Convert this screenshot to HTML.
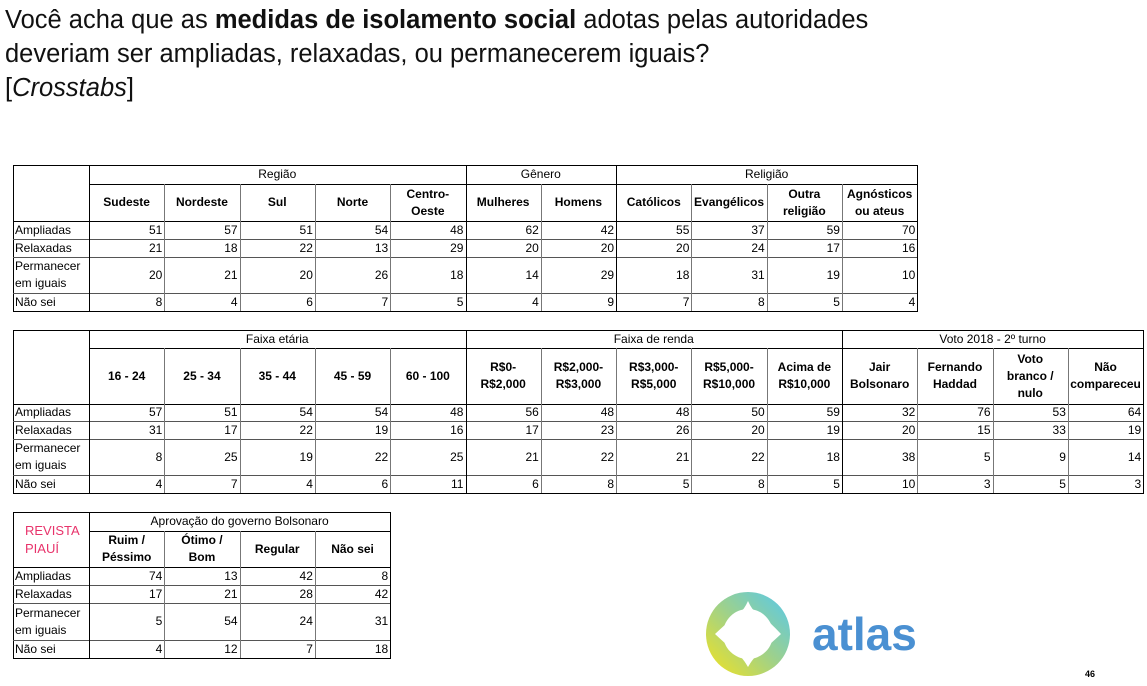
<!DOCTYPE html>
<html><head><meta charset="utf-8">
<style>
body{margin:0;width:1147px;height:686px;background:#fff;position:relative;overflow:hidden;font-family:"Liberation Sans",sans-serif;}
.title{position:absolute;left:5px;top:3px;font-size:25.5px;line-height:34px;color:#111;}
.c{position:absolute;box-sizing:border-box;font-size:12px;color:#000;display:flex;align-items:center;line-height:17px;}
.b{font-weight:bold;justify-content:center;text-align:center;}
.g{justify-content:center;}
.n{justify-content:flex-end;padding-right:2px;}
.r{padding-left:2px;}
</style></head><body>
<div class="title">Você acha que as <b>medidas de isolamento social</b> adotas pelas autoridades<br>deveriam ser ampliadas, relaxadas, ou permanecerem iguais?<br>[<i>Crosstabs</i>]</div>
<div id="root"></div>
<div style="position:absolute;left:25px;top:522px;color:#e8336b;font-size:13px;line-height:18px;">REVISTA<br>PIAUÍ</div>
<svg style="position:absolute;left:700px;top:588px" width="230" height="90">
<defs><linearGradient id="lg" x1="0" y1="1" x2="1" y2="0"><stop offset="0" stop-color="#f5e31c"/><stop offset="0.5" stop-color="#9fd18a"/><stop offset="1" stop-color="#55c8ee"/></linearGradient></defs>
<circle cx="48" cy="46" r="42" fill="url(#lg)"/>
<path d="M48 13 Q52 22 56 24 Q66 30 81 46 Q66 60 56 68 Q52 72 48 79 Q44 72 40 68 Q30 60 15 46 Q30 32 40 24 Q44 22 48 13Z" fill="#fff"/>
<circle cx="48" cy="46" r="25" fill="#fff"/>
<text x="112" y="62" font-family="Liberation Sans,sans-serif" font-weight="bold" font-size="46" fill="#4a90d2">atlas</text>
</svg>
<div style="position:absolute;left:1085px;top:669px;font-size:9px;font-weight:bold;">46</div>
<script>
const rowLabels=["Ampliadas","Relaxadas","Permanecer<br>em iguais","Não sei"];
const t1Groups=[["Região",5],["Gênero",2],["Religião",4]];
const t1Cols=["Sudeste","Nordeste","Sul","Norte","Centro-<br>Oeste","Mulheres","Homens","Católicos","Evangélicos","Outra<br>religião","Agnósticos<br>ou ateus"];
const t1Ampliadas=[51,57,51,54,48,62,42,55,37,59,70];
const t1Relaxadas=[21,18,22,13,29,20,20,20,24,17,16];
const t1Permanecer=[20,21,20,26,18,14,29,18,31,19,10];
const t1NaoSei=[8,4,6,7,5,4,9,7,8,5,4];
const t2Groups=[["Faixa etária",5],["Faixa de renda",5],["Voto 2018 - 2º turno",4]];
const t2Cols=["16 - 24","25 - 34","35 - 44","45 - 59","60 - 100","R$0-<br>R$2,000","R$2,000-<br>R$3,000","R$3,000-<br>R$5,000","R$5,000-<br>R$10,000","Acima de<br>R$10,000","Jair<br>Bolsonaro","Fernando<br>Haddad","Voto<br>branco /<br>nulo","Não<br>compareceu"];
const t2Ampliadas=[57,51,54,54,48,56,48,48,50,59,32,76,53,64];
const t2Relaxadas=[31,17,22,19,16,17,23,26,20,19,20,15,33,19];
const t2Permanecer=[8,25,19,22,25,21,22,21,22,18,38,5,9,14];
const t2NaoSei=[4,7,4,6,11,6,8,5,8,5,10,3,5,3];
const t3Groups=[["Aprovação do governo Bolsonaro",4]];
const t3Cols=["Ruim /<br>Péssimo","Ótimo /<br>Bom","Regular","Não sei"];
const t3Ampliadas=[74,13,42,8];
const t3Relaxadas=[17,21,28,42];
const t3Permanecer=[5,54,24,31];
const t3NaoSei=[4,12,7,18];

const root=document.getElementById('root');
function cell(x,y,w,h,html,cls,name){
  const d=document.createElement('div');
  d.className='c '+cls;
  d.style.left=x+'px';d.style.top=y+'px';d.style.width=w+'px';d.style.height=h+'px';
  d.innerHTML=html;
  
  
  root.appendChild(d);return d;
}
function line(x,y,w,h,col){
  const d=document.createElement('div');
  d.style.cssText='position:absolute;left:'+x+'px;top:'+y+'px;width:'+w+'px;height:'+h+'px;background:'+col;
  
  
  root.appendChild(d);
}
function table(name,x0,ys,cw,groups,cols,series){
  const n=cols.length, x1=89, colX=i=>x1+i*cw, xEnd=colX(n);
  let gi=0;
  groups.forEach(g=>{cell(colX(gi),ys[0],g[1]*cw,ys[1]-ys[0],g[0],'g',name+'-group-header');gi+=g[1];});
  cols.forEach((c,i)=>cell(colX(i),ys[1],cw,ys[2]-ys[1],c,'b',name+'-col-header'));
  rowLabels.forEach((r,ri)=>{
    cell(x0,ys[2+ri],x1-x0,ys[3+ri]-ys[2+ri],r,'r',name+'-row-label');
    series[ri].forEach((v,i)=>cell(colX(i),ys[2+ri],cw,ys[3+ri]-ys[2+ri],v,'n',name+'-value'));
  });
  const top=ys[0],bot=ys[ys.length-1];
  line(x0,top,xEnd-x0+1,1,'#000');line(x0,bot,xEnd-x0+1,1,'#000');
  line(x0,top,1,bot-top,'#000');line(xEnd,top,1,bot-top+1,'#000');
  line(x1,ys[1],xEnd-x1,1,'#000');
  for(let k=2;k<ys.length-1;k++)line(x0,ys[k],xEnd-x0,1,k==2?'#000':'#555');
  line(x1,top,1,bot-top,'#000');
  let b=0;const bounds=new Set();groups.forEach(g=>{b+=g[1];bounds.add(b);});
  for(let i=1;i<n;i++){
    if(bounds.has(i))line(colX(i),top,1,bot-top,'#000');
    else line(colX(i),ys[1],1,bot-ys[1],'#777');
  }
}
table('regiao-table',13,[165,184,221,239,257,293,311],75.3,t1Groups,t1Cols,[t1Ampliadas,t1Relaxadas,t1Permanecer,t1NaoSei]);
table('idade-renda-voto-table',13,[330,348,404,421,439,475,493],75.3,t2Groups,t2Cols,[t2Ampliadas,t2Relaxadas,t2Permanecer,t2NaoSei]);
table('aprovacao-table',13,[512,531,567,585,603,640,658],75.3,t3Groups,t3Cols,[t3Ampliadas,t3Relaxadas,t3Permanecer,t3NaoSei]);
</script>
</body></html>
